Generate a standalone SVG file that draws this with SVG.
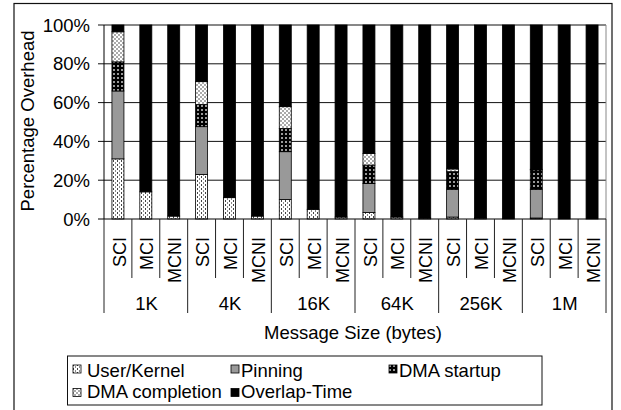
<svg xmlns="http://www.w3.org/2000/svg" width="621" height="410" viewBox="0 0 621 410">
<defs>
<pattern id="pUK" width="4" height="4" patternUnits="userSpaceOnUse">
<rect width="4" height="4" fill="#fff"/>
<rect x="1" y="0" width="1" height="2" fill="#444"/>
<rect x="3" y="2" width="1" height="2" fill="#888"/>
</pattern>
<pattern id="pStart" width="4" height="4" patternUnits="userSpaceOnUse">
<rect width="4" height="4" fill="#000"/>
<rect x="1" y="1" width="2" height="2" fill="#999"/>
</pattern>
<pattern id="pCompl" width="4" height="4" patternUnits="userSpaceOnUse">
<rect width="4" height="4" fill="#fff"/>
<rect x="0" y="0" width="2" height="2" fill="#aaa"/>
<rect x="2" y="2" width="2" height="2" fill="#aaa"/>
</pattern>
</defs>
<style>
text{font-family:"Liberation Sans",Arial,sans-serif;fill:#000}
.t{font-size:18.5px}
.xl{font-size:18px}
.grid{stroke:#111;stroke-width:1}
.sep{stroke:#222;stroke-width:1}
.uk{fill:url(#pUK);stroke:#000;stroke-width:0.8}
.pin{fill:#999;stroke:#000;stroke-width:0.8}
.st{fill:url(#pStart);stroke:#000;stroke-width:0.8}
.co{fill:url(#pCompl);stroke:#000;stroke-width:0.8}
.ov{fill:#000;stroke:#000;stroke-width:0.8}
</style>
<rect x="14" y="3.5" width="598" height="420" fill="#fff" stroke="#111" stroke-width="1.2"/>

<g id="axes">
<line class="grid" x1="98" y1="25" x2="606" y2="25"/>
<line class="grid" x1="98" y1="63.8" x2="606" y2="63.8"/>
<line class="grid" x1="98" y1="102.6" x2="606" y2="102.6"/>
<line class="grid" x1="98" y1="141.4" x2="606" y2="141.4"/>
<line class="grid" x1="98" y1="180.2" x2="606" y2="180.2"/>
<line x1="606" y1="25" x2="606" y2="219" stroke="#888" stroke-width="1"/>
<line x1="104" y1="25" x2="104" y2="219" stroke="#000" stroke-width="1"/>
<g class="t" text-anchor="end">
<text x="90" y="31.5">100%</text>
<text x="90" y="70.3">80%</text>
<text x="90" y="109.1">60%</text>
<text x="90" y="147.9">40%</text>
<text x="90" y="186.7">20%</text>
<text x="90" y="225.5">0%</text>
</g>
<text class="t" transform="translate(34,121) rotate(-90)" text-anchor="middle">Percentage Overhead</text>
</g>

<g id="bars">
<g id="bar-1K-SCI"><rect class="uk" x="111.94" y="158.86" width="12" height="60.14"/><rect class="pin" x="111.94" y="90.96" width="12" height="67.9"/><rect class="st" x="111.94" y="61.86" width="12" height="29.1"/><rect class="co" x="111.94" y="31.79" width="12" height="30.07"/><rect class="ov" x="111.94" y="25" width="12" height="6.79"/></g>
<g id="bar-1K-MCI"><rect class="uk" x="139.83" y="191.84" width="12" height="27.16"/><rect class="ov" x="139.83" y="25" width="12" height="166.84"/></g>
<g id="bar-1K-MCNI"><rect class="uk" x="167.72" y="216.09" width="12" height="2.91"/><rect class="ov" x="167.72" y="25" width="12" height="191.09"/></g>
<g id="bar-4K-SCI"><rect class="uk" x="195.61" y="174.38" width="12" height="44.62"/><rect class="pin" x="195.61" y="126.66" width="12" height="47.72"/><rect class="st" x="195.61" y="104.54" width="12" height="22.12"/><rect class="co" x="195.61" y="81.65" width="12" height="22.89"/><rect class="ov" x="195.61" y="25" width="12" height="56.65"/></g>
<g id="bar-4K-MCI"><rect class="uk" x="223.5" y="197.66" width="12" height="21.34"/><rect class="ov" x="223.5" y="25" width="12" height="172.66"/></g>
<g id="bar-4K-MCNI"><rect class="uk" x="251.39" y="216.09" width="12" height="2.91"/><rect class="ov" x="251.39" y="25" width="12" height="191.09"/></g>
<g id="bar-16K-SCI"><rect class="uk" x="279.28" y="199.6" width="12" height="19.4"/><rect class="pin" x="279.28" y="151.68" width="12" height="47.92"/><rect class="st" x="279.28" y="128.4" width="12" height="23.28"/><rect class="co" x="279.28" y="106.67" width="12" height="21.73"/><rect class="ov" x="279.28" y="25" width="12" height="81.67"/></g>
<g id="bar-16K-MCI"><rect class="uk" x="307.17" y="209.3" width="12" height="9.7"/><rect class="ov" x="307.17" y="25" width="12" height="184.3"/></g>
<g id="bar-16K-MCNI"><rect class="uk" x="335.06" y="217.06" width="12" height="1.94"/><rect class="ov" x="335.06" y="25" width="12" height="192.06"/></g>
<g id="bar-64K-SCI"><rect class="uk" x="362.94" y="212.4" width="12" height="6.6"/><rect class="pin" x="362.94" y="183.5" width="12" height="28.9"/><rect class="st" x="362.94" y="165.07" width="12" height="18.43"/><rect class="co" x="362.94" y="153.43" width="12" height="11.64"/><rect class="ov" x="362.94" y="25" width="12" height="128.43"/></g>
<g id="bar-64K-MCI"><rect class="uk" x="390.83" y="217.06" width="12" height="1.94"/><rect class="ov" x="390.83" y="25" width="12" height="192.06"/></g>
<g id="bar-64K-MCNI"><rect class="uk" x="418.72" y="218.03" width="12" height="0.97"/><rect class="ov" x="418.72" y="25" width="12" height="193.03"/></g>
<g id="bar-256K-SCI"><rect class="uk" x="446.61" y="217.06" width="12" height="1.94"/><rect class="pin" x="446.61" y="189.3" width="12" height="27.76"/><rect class="st" x="446.61" y="171.66" width="12" height="17.64"/><rect class="co" x="446.61" y="168.95" width="12" height="2.71"/><rect class="ov" x="446.61" y="25" width="12" height="143.95"/></g>
<g id="bar-256K-MCI"><rect class="uk" x="474.5" y="218" width="12" height="1"/><rect class="ov" x="474.5" y="25" width="12" height="193"/></g>
<g id="bar-256K-MCNI"><rect class="ov" x="502.39" y="25" width="12" height="194"/></g>
<g id="bar-1M-SCI"><rect class="uk" x="530.28" y="218" width="12" height="1"/><rect class="pin" x="530.28" y="189.3" width="12" height="28.7"/><rect class="st" x="530.28" y="169.9" width="12" height="19.4"/><rect class="co" x="530.28" y="169.3" width="12" height="0.6"/><rect class="ov" x="530.28" y="25" width="12" height="144.3"/></g>
<g id="bar-1M-MCI"><rect class="ov" x="558.17" y="25" width="12" height="194"/></g>
<g id="bar-1M-MCNI"><rect class="ov" x="586.06" y="25" width="12" height="194"/></g>
</g>

<g id="x-axis">
<line x1="98" y1="219" x2="606" y2="219" stroke="#000" stroke-width="1"/>
<g class="sep">
<line x1="104" y1="219" x2="104" y2="313"/>
<line x1="131.89" y1="219" x2="131.89" y2="278"/>
<line x1="159.78" y1="219" x2="159.78" y2="278"/>
<line x1="187.67" y1="219" x2="187.67" y2="313"/>
<line x1="215.56" y1="219" x2="215.56" y2="278"/>
<line x1="243.44" y1="219" x2="243.44" y2="278"/>
<line x1="271.33" y1="219" x2="271.33" y2="313"/>
<line x1="299.22" y1="219" x2="299.22" y2="278"/>
<line x1="327.11" y1="219" x2="327.11" y2="278"/>
<line x1="355" y1="219" x2="355" y2="313"/>
<line x1="382.89" y1="219" x2="382.89" y2="278"/>
<line x1="410.78" y1="219" x2="410.78" y2="278"/>
<line x1="438.67" y1="219" x2="438.67" y2="313"/>
<line x1="466.56" y1="219" x2="466.56" y2="278"/>
<line x1="494.44" y1="219" x2="494.44" y2="278"/>
<line x1="522.33" y1="219" x2="522.33" y2="313"/>
<line x1="550.22" y1="219" x2="550.22" y2="278"/>
<line x1="578.11" y1="219" x2="578.11" y2="278"/>
<line x1="606" y1="219" x2="606" y2="313"/>
</g>
<g class="xl" text-anchor="end">
<text transform="translate(125.5,237) rotate(-90)">SCI</text>
<text transform="translate(153.4,237) rotate(-90)">MCI</text>
<text transform="translate(181.3,237) rotate(-90)">MCNI</text>
<text transform="translate(209.2,237) rotate(-90)">SCI</text>
<text transform="translate(237.1,237) rotate(-90)">MCI</text>
<text transform="translate(264.9,237) rotate(-90)">MCNI</text>
<text transform="translate(292.8,237) rotate(-90)">SCI</text>
<text transform="translate(320.7,237) rotate(-90)">MCI</text>
<text transform="translate(348.6,237) rotate(-90)">MCNI</text>
<text transform="translate(376.5,237) rotate(-90)">SCI</text>
<text transform="translate(404.4,237) rotate(-90)">MCI</text>
<text transform="translate(432.3,237) rotate(-90)">MCNI</text>
<text transform="translate(460.1,237) rotate(-90)">SCI</text>
<text transform="translate(488,237) rotate(-90)">MCI</text>
<text transform="translate(515.9,237) rotate(-90)">MCNI</text>
<text transform="translate(543.8,237) rotate(-90)">SCI</text>
<text transform="translate(571.7,237) rotate(-90)">MCI</text>
<text transform="translate(599.6,237) rotate(-90)">MCNI</text>
</g>
<g class="t" text-anchor="middle">
<text x="146.5" y="310">1K</text>
<text x="230" y="310">4K</text>
<text x="313.7" y="310">16K</text>
<text x="397.3" y="310">64K</text>
<text x="481" y="310">256K</text>
<text x="564.7" y="310">1M</text>
<text x="353" y="338.5">Message Size (bytes)</text>
</g>
</g>

<g id="legend">
<rect x="67.5" y="356" width="474.5" height="49" fill="#fff" stroke="#111" stroke-width="1"/>
<rect class="uk" x="73" y="365" width="8" height="8"/>
<text class="t" x="87" y="377">User/Kernel</text>
<rect class="pin" x="231" y="365" width="8" height="8"/>
<text class="t" x="241" y="377">Pinning</text>
<rect class="st" x="389" y="365" width="8" height="8"/>
<text class="t" x="399" y="377">DMA startup</text>
<rect class="co" x="73" y="388.5" width="8" height="8"/>
<text class="t" x="87" y="398">DMA completion</text>
<rect class="ov" x="231" y="388.5" width="8" height="8"/>
<text class="t" x="241" y="398">Overlap-Time</text>
</g>
</svg>
